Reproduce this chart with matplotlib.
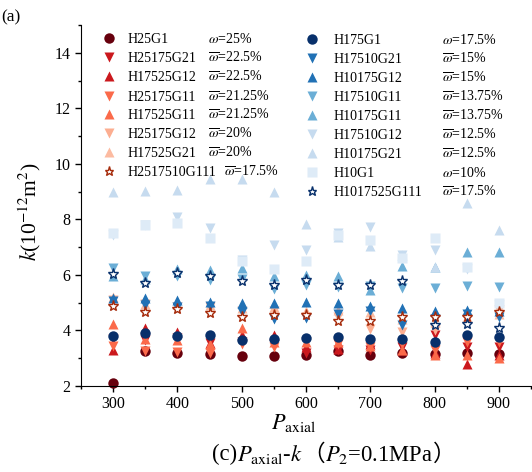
import matplotlib
matplotlib.use("Agg")
import matplotlib.pyplot as plt
from matplotlib.offsetbox import TextArea, HPacker, AnnotationBbox
from matplotlib.ticker import MultipleLocator

plt.rcParams['font.family'] = ['Liberation Serif', 'DejaVu Sans']
plt.rcParams['mathtext.fontset'] = 'stix'

# axial pressure
p_axial = [300, 350, 400, 450, 500, 550, 600, 650, 700, 750, 800, 850, 900]

# red group
H25G1 = [2.1, 3.25, 3.2, 3.15, 3.08, 3.08, 3.12, 3.25, 3.12, 3.2, 3.15, 3.2, 3.15]
H25175G21 = [3.7, 3.65, 3.72, 3.55, 3.6, 3.5, 3.2, 3.3, 3.3, 3.4, 3.85, 3.4, 3.42]
H17525G12 = [3.3, 4.1, 3.95, 3.55, 3.85, 3.85, 3.4, 3.35, 3.5, 3.3, 3.2, 2.8, 3.1]
H25175G11 = [3.45, 3.25, 3.22, 3.18, 3.5, 3.4, 3.6, 3.5, 3.4, 3.5, 3.3, 3.6, 3.6]
H17525G11 = [4.22, 3.7, 3.65, 3.5, 4.08, 3.6, 3.6, 3.6, 3.45, 3.3, 3.1, 3.1, 3.0]
H25175G12 = [5.1, 4.95, 4.85, 4.85, 4.7, 4.7, 4.5, 4.5, 4.05, 3.95, 4.0, 4.4, 4.75]
H17525G21 = [5.2, 4.95, 4.95, 4.9, 4.8, 4.85, 4.7, 4.75, 4.65, 4.4, 4.3, 4.5, 4.6]
H2517510G111 = [4.88, 4.68, 4.78, 4.63, 4.48, 4.55, 4.55, 4.35, 4.35, 4.5, 4.5, 4.5, 4.68]

# blue group
H175G1 = [3.8, 3.92, 3.8, 3.82, 3.65, 3.7, 3.73, 3.78, 3.68, 3.7, 3.6, 3.83, 3.78]
H17510G21 = [5.05, 4.9, 4.85, 4.88, 4.65, 4.42, 4.45, 4.6, 4.7, 4.2, 4.4, 4.6, 4.5]
H10175G12 = [5.18, 5.18, 5.08, 5.02, 5.0, 4.98, 5.02, 5.0, 4.88, 4.8, 4.7, 4.72, 4.7]
H17510G11 = [6.25, 5.97, 5.97, 5.83, 5.85, 5.5, 5.65, 5.58, 5.6, 5.53, 5.53, 5.6, 5.57]
H10175G11 = [5.95, 5.85, 6.22, 6.19, 6.26, 5.95, 6.0, 5.97, 5.47, 6.33, 6.28, 6.83, 6.83]
H17510G12 = [7.42, 7.78, 8.1, 7.7, 6.55, 7.09, 6.91, 7.52, 7.73, 6.7, 6.91, 6.2, 4.92]
H10175G21 = [8.98, 9.01, 9.07, 9.44, 9.44, 8.98, 7.85, 7.35, 7.05, 6.73, 6.3, 8.6, 7.6]
H10G1 = [7.5, 7.8, 7.88, 7.33, 6.5, 6.22, 6.49, 7.42, 7.27, 6.62, 7.34, 6.3, 5.0]
H1017525G111 = [6.05, 5.72, 6.07, 5.95, 5.77, 5.65, 5.83, 5.65, 5.65, 5.79, 4.2, 4.22, 4.09]

# (name, data, marker, color, omega label)
red_series = [
    ("H25G1", H25G1, 'o', '#67000d', r'$\omega$=25%'),
    ("H25175G21", H25175G21, 'v', '#cb181d', r'$\overline{\omega}$=22.5%'),
    ("H17525G12", H17525G12, '^', '#cb181d', r'$\overline{\omega}$=22.5%'),
    ("H25175G11", H25175G11, 'v', '#fb6a4a', r'$\overline{\omega}$=21.25%'),
    ("H17525G11", H17525G11, '^', '#fb6a4a', r'$\overline{\omega}$=21.25%'),
    ("H25175G12", H25175G12, 'v', '#fcae91', r'$\overline{\omega}$=20%'),
    ("H17525G21", H17525G21, '^', '#fcbba1', r'$\overline{\omega}$=20%'),
    ("H2517510G111", H2517510G111, '*', '#a52a0a', r'$\overline{\omega}$=17.5%'),
]
blue_series = [
    ("H175G1", H175G1, 'o', '#08306b', r'$\omega$=17.5%'),
    ("H17510G21", H17510G21, 'v', '#2171b5', r'$\overline{\omega}$=15%'),
    ("H10175G12", H10175G12, '^', '#2171b5', r'$\overline{\omega}$=15%'),
    ("H17510G11", H17510G11, 'v', '#6baed6', r'$\overline{\omega}$=13.75%'),
    ("H10175G11", H10175G11, '^', '#6baed6', r'$\overline{\omega}$=13.75%'),
    ("H17510G12", H17510G12, 'v', '#c6dbef', r'$\overline{\omega}$=12.5%'),
    ("H10175G21", H10175G21, '^', '#c6dbef', r'$\overline{\omega}$=12.5%'),
    ("H10G1", H10G1, 's', '#deebf7', r'$\omega$=10%'),
    ("H1017525G111", H1017525G111, '*', '#08306b', r'$\overline{\omega}$=17.5%'),
]

W, H = 532, 472
fig = plt.figure(figsize=(W / 100, H / 100), dpi=100)
ax = fig.add_axes([81 / W, 1 - 386 / H, 450 / W, 361 / H])


def mstyle(marker, color):
    if marker == '*':
        return dict(marker='*', ms=8, mfc='white', mec=color, mew=1.0)
    size = {'o': 7.5, 's': 6.5}.get(marker, 7.5)
    return dict(marker=marker, ms=size, mfc=color, mec='none')


# non-star series first, stars on top
for name, vals, m, c, _ in red_series + blue_series:
    if m != '*':
        ax.plot(p_axial, vals, ls='none', clip_on=False, **mstyle(m, c))
for name, vals, m, c, _ in red_series + blue_series:
    if m == '*':
        ax.plot(p_axial, vals, ls='none', clip_on=False, zorder=3, **mstyle(m, c))

ax.set_xlim(250, 950)
ax.set_ylim(2, 15)
ax.xaxis.set_major_locator(MultipleLocator(100))
ax.xaxis.set_minor_locator(MultipleLocator(50))
ax.yaxis.set_major_locator(MultipleLocator(2))
ax.yaxis.set_minor_locator(MultipleLocator(1))
ax.spines['top'].set_visible(False)
ax.spines['right'].set_visible(False)
ax.tick_params(which='major', direction='out', length=4, width=1, labelsize=11.5)
ax.tick_params(which='minor', direction='out', length=2.5, width=1)

# legend drawn by hand, two columns
fs = 10
def fx(px):
    return px / W
def fy(py):
    return 1 - py / H

left_rows = [38, 57, 76, 96, 114, 133, 152, 171]
right_rows = [39, 58, 77, 96, 115, 134, 153, 172, 191]
left_om_x = [208] * 7 + [224]
for (name, vals, m, c, om), ry, ox in zip(red_series, left_rows, left_om_x):
    st = mstyle(m, c)
    st['ms'] = st['ms'] * (0.85 if m == '*' else 1.0)
    ax.plot([fx(109)], [fy(ry)], transform=fig.transFigure, clip_on=False, **st)
    fig.text(fx(128), fy(ry + 5), name, fontsize=fs, va='baseline', ha='left')
    fig.text(fx(ox), fy(ry + 5), om, fontsize=fs, va='baseline', ha='left')
for (name, vals, m, c, om), ry in zip(blue_series, right_rows):
    st = mstyle(m, c)
    st['ms'] = st['ms'] * (0.85 if m == '*' else 1.0)
    ax.plot([fx(312)], [fy(ry)], transform=fig.transFigure, clip_on=False, **st)
    fig.text(fx(334), fy(ry + 5), name, fontsize=fs, va='baseline', ha='left')
    fig.text(fx(442), fy(ry + 5), om, fontsize=fs, va='baseline', ha='left')

# labels
fig.text(fx(1), fy(21), '(a)', fontsize=12.5, va='baseline', ha='left')
fig.text(fx(30), fy(212), r'$k$(10$^{-12}$m$^2$)', fontsize=15.5, rotation=90,
         va='center', ha='center')
fig.text(fx(294), fy(429), r'$P_{\mathrm{axial}}$', fontsize=16, va='baseline', ha='center')

cjk = ['Noto Sans CJK SC', 'DejaVu Sans']
cap = 16.3
parts = [
    TextArea('(c)', textprops=dict(fontsize=cap)),
    TextArea(r'$P_{\mathrm{axial}}$-$k$', textprops=dict(fontsize=cap)),
    TextArea('（', textprops=dict(fontsize=cap, family=cjk)),
    TextArea(r'$P_2$=0.1MPa', textprops=dict(fontsize=cap)),
    TextArea('）', textprops=dict(fontsize=cap, family=cjk)),
]
box = HPacker(children=parts, align='baseline', pad=0, sep=0)
ab = AnnotationBbox(box, (fx(334), fy(454)), xycoords='figure fraction',
                    frameon=False, box_alignment=(0.5, 0.5))
fig.add_artist(ab)

fig.savefig('out.png', dpi=100)
